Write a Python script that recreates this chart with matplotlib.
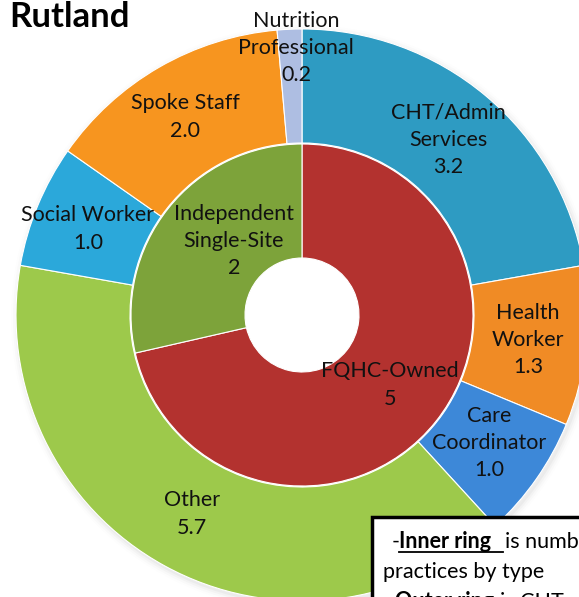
import matplotlib.pyplot as plt
from matplotlib.patches import Rectangle, Wedge

W, H = 579, 597

# outer ring: CHT staff by role (FTE)
outer_labels = ["CHT/Admin\nServices", "Health\nWorker", "Care\nCoordinator", "Other",
                "Social Worker", "Spoke Staff", "Nutrition\nProfessional"]
outer_vals = [3.2, 1.3, 1.0, 5.7, 1.0, 2.0, 0.2]
outer_colors = ["#2E9BC2", "#F08B25", "#3D88D8", "#9DC94B", "#2BA8DA", "#F7951F", "#AEBEE2"]

# inner ring: number of practices by type
inner_labels = ["FQHC-Owned", "Independent\nSingle-Site"]
inner_vals = [5, 2]
inner_colors = ["#B3322F", "#7DA33A"]

fig = plt.figure(figsize=(W / 100, H / 100), dpi=100)
ax = fig.add_axes([0, 0, 1, 1])

cx, cy = 302, H - 315
R_out, R_mid, R_hole = 286, 172, 57

# soft shadow round the outer ring
for i, a in enumerate([0.06, 0.045, 0.03, 0.015]):
    ax.add_patch(Wedge((cx + 2, cy - 3), R_out + 1 + i * 2, 0, 360, width=8,
                       color="gray", alpha=a, lw=0))

ax.pie(outer_vals, colors=outer_colors, radius=R_out, center=(cx, cy),
       startangle=90, counterclock=False, frame=True,
       wedgeprops=dict(width=R_out - R_mid, edgecolor="#FFFFFF", linewidth=0.8))
ax.pie(inner_vals, colors=inner_colors, radius=R_mid - 1, center=(cx, cy),
       startangle=90, counterclock=False, frame=True,
       wedgeprops=dict(width=R_mid - 1 - R_hole, edgecolor="#FFFFFF", linewidth=0.8))
ax.set_xlim(0, W)
ax.set_ylim(0, H)
ax.set_aspect("equal")
ax.axis("off")

font = "Lato"
fs = 15.5

def lab(x, y, s):
    ax.text(x, H - y, s, ha="center", va="center", fontsize=fs, family=font,
            linespacing=1.45, color="#111111")

outer_pos = [(448, 140), (528, 340), (489, 443), (192, 514), (88, 229), (185, 117), (296, 48)]
for (x, y), name, v in zip(outer_pos, outer_labels, outer_vals):
    lab(x, y, f"{name}\n{v:.1f}")

inner_pos = [(390, 385), (234, 241)]
for (x, y), name, v in zip(inner_pos, inner_labels, inner_vals):
    lab(x, y, f"{name}\n{v}")

ax.text(9, H - 17, "Rutland", ha="left", va="center", fontsize=25,
        fontweight="bold", family=font)

# note box, cut by the right and bottom edges
ax.add_patch(Rectangle((372, H - 680), 300, 680 - 517, facecolor="white",
                       edgecolor="black", linewidth=2.5))
bfs = 15.5
ax.text(392, H - 548, "-", ha="left", va="baseline", fontsize=bfs, family=font)
ax.text(399, H - 548, "Inner ring", ha="left", va="baseline", fontsize=bfs,
        family=font, fontweight="bold")
ax.plot([399, 503], [H - 552, H - 552], color="black", lw=1.3)
ax.text(505, H - 548, "is number of", ha="left", va="baseline", fontsize=bfs, family=font)
ax.text(383, H - 578, "practices by type", ha="left", va="baseline", fontsize=bfs, family=font)
ax.text(388, H - 608, "-", ha="left", va="baseline", fontsize=bfs, family=font)
ax.text(395, H - 608, "Outer ring", ha="left", va="baseline", fontsize=bfs,
        family=font, fontweight="bold")
ax.text(500, H - 608, "is CHT", ha="left", va="baseline", fontsize=bfs, family=font)

fig.savefig("out.png", dpi=100)
